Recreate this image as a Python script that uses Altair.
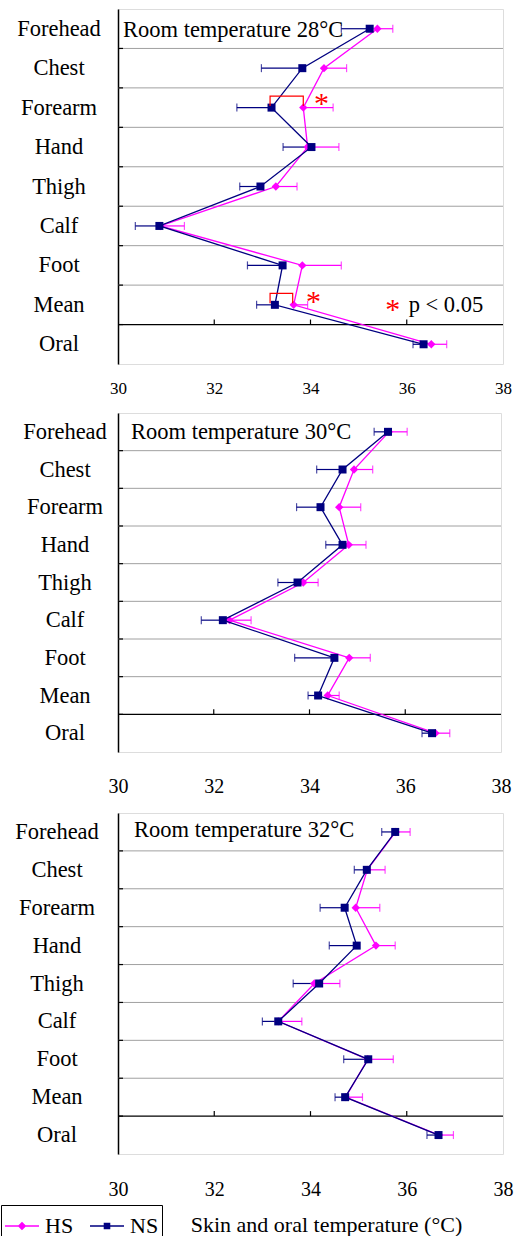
import altair as alt
import pandas as pd

FONT = "Liberation Serif"
HS_COLOR = "#FF00FF"
NS_COLOR = "#000080"
SIG_COLOR = "#FF0000"

sites = ["Forehead", "Chest", "Forearm", "Hand", "Thigh", "Calf", "Foot", "Mean", "Oral"]
series_names = ["HS", "NS"]
x_ticks = [30, 32, 34, 36, 38]
inner_ticks = [32, 34, 36]
row_bounds = [1, 2, 3, 4, 5, 6, 7]
axis_bound = [8]
left_ticks = [1, 2, 3, 4, 5, 6, 7, 8]

rooms = ["28", "30", "32"]

hs_28 = [35.39, 34.28, 33.85, 33.94, 33.28, 30.88, 33.83, 33.65, 36.51]
hs_28_err = [0.32, 0.47, 0.62, 0.65, 0.44, 0.50, 0.81, 0.29, 0.32]
ns_28 = [35.23, 33.83, 33.19, 34.02, 32.96, 30.86, 33.42, 33.26, 36.35]
ns_28_err = [0.59, 0.85, 0.72, 0.59, 0.43, 0.50, 0.73, 0.38, 0.22]

hs_30 = [35.66, 34.93, 34.62, 34.82, 33.87, 32.33, 34.83, 34.38, 36.63]
hs_30_err = [0.38, 0.39, 0.45, 0.36, 0.31, 0.45, 0.44, 0.24, 0.30]
ns_30 = [35.64, 34.69, 34.23, 34.69, 33.75, 32.19, 34.52, 34.18, 36.56]
ns_30_err = [0.29, 0.54, 0.50, 0.35, 0.41, 0.45, 0.83, 0.21, 0.21]

hs_32 = [35.77, 35.18, 34.94, 35.36, 34.08, 33.33, 35.19, 34.73, 36.67]
hs_32_err = [0.30, 0.37, 0.50, 0.40, 0.53, 0.49, 0.53, 0.35, 0.30]
ns_32 = [35.76, 35.17, 34.71, 34.96, 34.18, 33.33, 35.20, 34.72, 36.66]
ns_32_err = [0.28, 0.26, 0.51, 0.57, 0.54, 0.33, 0.51, 0.21, 0.24]

# significance (28 °C panel)
sig_sites = [2, 7]                 # Forearm, Mean
sig_lo = [33.16, 33.16]
sig_hi = [33.85, 33.63]
star_x = [34.23, 34.06]
star_y = [2.29, 7.30]
note_star_x = [35.71]
note_star_y = [7.50]
note_text_x = [36.04]
note_text_y = [7.50]
note_text = ["p < 0.05"]

x_title = "Skin and oral temperature (°C)"

HS_PATH = "M-1,0L1,0M0,-0.19L0.19,0L0,0.19L-0.19,0Z"
NS_PATH = "M-1,0L1,0M-0.15,-0.15L0.15,-0.15L0.15,0.15L-0.15,0.15Z"

panels = [
    dict(room=rooms[0], hs=hs_28, hs_err=hs_28_err, ns=ns_28, ns_err=ns_28_err,
         width=385, height=355, lsize=17, lpad=16, label_dx=-59, title_dx=5, title_dy=21),
    dict(room=rooms[1], hs=hs_30, hs_err=hs_30_err, ns=ns_30, ns_err=ns_30_err,
         width=383, height=339, lsize=20, lpad=24, label_dx=-53, title_dx=13, title_dy=19),
    dict(room=rooms[2], hs=hs_32, hs_err=hs_32_err, ns=ns_32, ns_err=ns_32_err,
         width=385, height=341, lsize=20, lpad=25, label_dx=-61, title_dx=16, title_dy=17),
]

xscale = alt.Scale(domain=[30, 38], nice=False, zero=False)
yscale = alt.Scale(domain=[0, 9], reverse=True, nice=False, zero=False)
yaxis = alt.Axis(labels=False, ticks=False, grid=False, domain=True,
                 domainColor="black", domainWidth=1.5, title=None)


def make_panel(i, cfg):
    W, H = cfg["width"], cfg["height"]
    title = x_title if i == 2 else None
    axis_kw = dict(values=x_ticks, format="d", labelFont=FONT, labelFontSize=cfg["lsize"],
                   labelPadding=cfg["lpad"], labelFlush=False, labelOverlap=False,
                   labelColor="black", domain=False, ticks=False, tickSize=0, grid=False)
    if title:
        axis_kw.update(title=title, titleFont=FONT, titleFontSize=22, titleFontWeight="normal",
                       titleColor="black", titleX=208, titleY=70, titleAlign="center",
                       titleBaseline="middle")
    else:
        axis_kw.update(title=None)
    xaxis = alt.Axis(**axis_kw)

    def X(f):
        return alt.X(f, type="quantitative", scale=xscale, axis=xaxis)

    def Y(f):
        return alt.Y(f, type="quantitative", scale=yscale, axis=yaxis)

    df = pd.DataFrame({
        "site": sites * 2,
        "idx": list(range(9)) * 2,
        "series": ["HS"] * 9 + ["NS"] * 9,
        "value": cfg["hs"] + cfg["ns"],
        "err": cfg["hs_err"] + cfg["ns_err"],
    })
    df["yc"] = df["idx"] + 0.5
    df["lo"] = df["value"] - df["err"]
    df["hi"] = df["value"] + df["err"]
    hs = df[df.series == "HS"]
    ns = df[df.series == "NS"]

    grid = alt.Chart(pd.DataFrame({"b": row_bounds})).mark_rule(
        color="#a0a0a0", strokeWidth=1).encode(y=Y("b"))
    axline = alt.Chart(pd.DataFrame({"b": axis_bound})).mark_rule(
        color="black", strokeWidth=1.3).encode(y=Y("b"))
    ytick = H * 8 / 9
    xt = alt.Chart(pd.DataFrame({"t": inner_ticks})).mark_rule(
        color="black", strokeWidth=1.2).encode(
        x=X("t"), y=alt.value(ytick), y2=alt.value(ytick - 5))
    lt = alt.Chart(pd.DataFrame({"b": left_ticks})).mark_rule(
        color="black", strokeWidth=1.2).encode(
        y=Y("b"), x=alt.value(0), x2=alt.value(5))

    ns_bar = alt.Chart(ns).mark_rule(color=NS_COLOR, strokeWidth=1.2).encode(
        x=X("lo"), x2="value", y=Y("yc"))
    ns_cap = alt.Chart(ns).mark_tick(color=NS_COLOR, orient="vertical", size=8,
                                     thickness=1.2).encode(x=X("lo"), y=Y("yc"))
    hs_bar = alt.Chart(hs).mark_rule(color=HS_COLOR, strokeWidth=1.2).encode(
        x=X("value"), x2="hi", y=Y("yc"))
    hs_cap = alt.Chart(hs).mark_tick(color=HS_COLOR, orient="vertical", size=8,
                                     thickness=1.2).encode(x=X("hi"), y=Y("yc"))

    hs_line = alt.Chart(hs).mark_line(color=HS_COLOR, strokeWidth=1.3).encode(
        x=X("value"), y=Y("yc"), order="idx:Q")
    hs_pt = alt.Chart(hs).mark_point(shape="diamond", filled=True, size=70,
                                     color=HS_COLOR, opacity=1).encode(x=X("value"), y=Y("yc"))
    ns_line = alt.Chart(ns).mark_line(color=NS_COLOR, strokeWidth=1.3).encode(
        x=X("value"), y=Y("yc"), order="idx:Q")
    ns_pt = alt.Chart(ns).mark_point(shape="square", filled=True, size=64,
                                     color=NS_COLOR, opacity=1).encode(x=X("value"), y=Y("yc"))

    labels = alt.Chart(pd.DataFrame({"site": sites, "yc": [k + 0.5 for k in range(9)]})).mark_text(
        font=FONT, fontSize=22.5, align="center", baseline="middle", color="black").encode(
        x=alt.value(cfg["label_dx"]), y=Y("yc"), text="site:N")

    ttl = alt.Chart(pd.DataFrame({"t": ["Room temperature " + cfg["room"] + "°C"]})).mark_text(
        font=FONT, fontSize=22.5, align="left", baseline="middle", color="black").encode(
        x=alt.value(cfg["title_dx"]), y=alt.value(cfg["title_dy"]), text="t:N")

    layers = [grid, axline, xt, lt, ns_bar, ns_cap, hs_bar, hs_cap,
              hs_line, hs_pt, ns_line, ns_pt, labels, ttl]

    if i == 0:
        rows = []
        for k, r in enumerate(sig_sites):
            pts = [(sig_lo[k], r + 0.46), (sig_lo[k], r + 0.21),
                   (sig_hi[k], r + 0.21), (sig_hi[k], r + 0.46)]
            for o, (xx, yy) in enumerate(pts):
                rows.append({"g": k, "o": o, "x": xx, "y": yy})
        br = alt.Chart(pd.DataFrame(rows)).mark_line(color=SIG_COLOR, strokeWidth=1.2).encode(
            x=X("x"), y=Y("y"), detail="g:N", order="o:Q")
        stars = alt.Chart(pd.DataFrame({"x": star_x + note_star_x, "y": star_y + note_star_y,
                                        "s": ["*"] * 3})).mark_text(
            font=FONT, fontSize=30, align="center", baseline="alphabetic", dy=14,
            color=SIG_COLOR).encode(x=X("x"), y=Y("y"), text="s:N")
        note = alt.Chart(pd.DataFrame({"x": note_text_x, "y": note_text_y, "s": note_text})).mark_text(
            font=FONT, fontSize=22.5, align="left", baseline="middle", color="black").encode(
            x=X("x"), y=Y("y"), text="s:N")
        layers += [br, stars, note]

    if i == 2:
        legend = alt.Legend(title=None, orient="none", legendX=-117, legendY=1196,
                            direction="horizontal", symbolSize=1156, symbolStrokeWidth=1.5,
                            labelFont=FONT, labelFontSize=22, labelColor="black",
                            strokeColor="black", fillColor="white", padding=3,
                            columnPadding=13, labelOffset=5)
        leg = alt.Chart(pd.DataFrame({"series": series_names})).mark_point(
            filled=True, opacity=1).encode(
            fill=alt.Fill("series:N", scale=alt.Scale(domain=series_names, range=[HS_COLOR, NS_COLOR]),
                          legend=legend),
            stroke=alt.Stroke("series:N", scale=alt.Scale(domain=series_names, range=[HS_COLOR, NS_COLOR]),
                              legend=legend),
            shape=alt.Shape("series:N", scale=alt.Scale(domain=series_names, range=[HS_PATH, NS_PATH]),
                            legend=legend),
        ).transform_filter("datum.series == 'none'")
        layers.append(leg)

    return alt.layer(*layers).properties(width=W, height=H)


charts = [make_panel(i, c) for i, c in enumerate(panels)]

chart = alt.vconcat(*charts, spacing=15).properties(
    padding={"left": 0, "top": 8, "right": 0, "bottom": 0}
).configure_view(stroke="#888888", strokeWidth=1).configure(background="white")

chart.save("out.html", embed_options={"renderer": "svg", "actions": False})
